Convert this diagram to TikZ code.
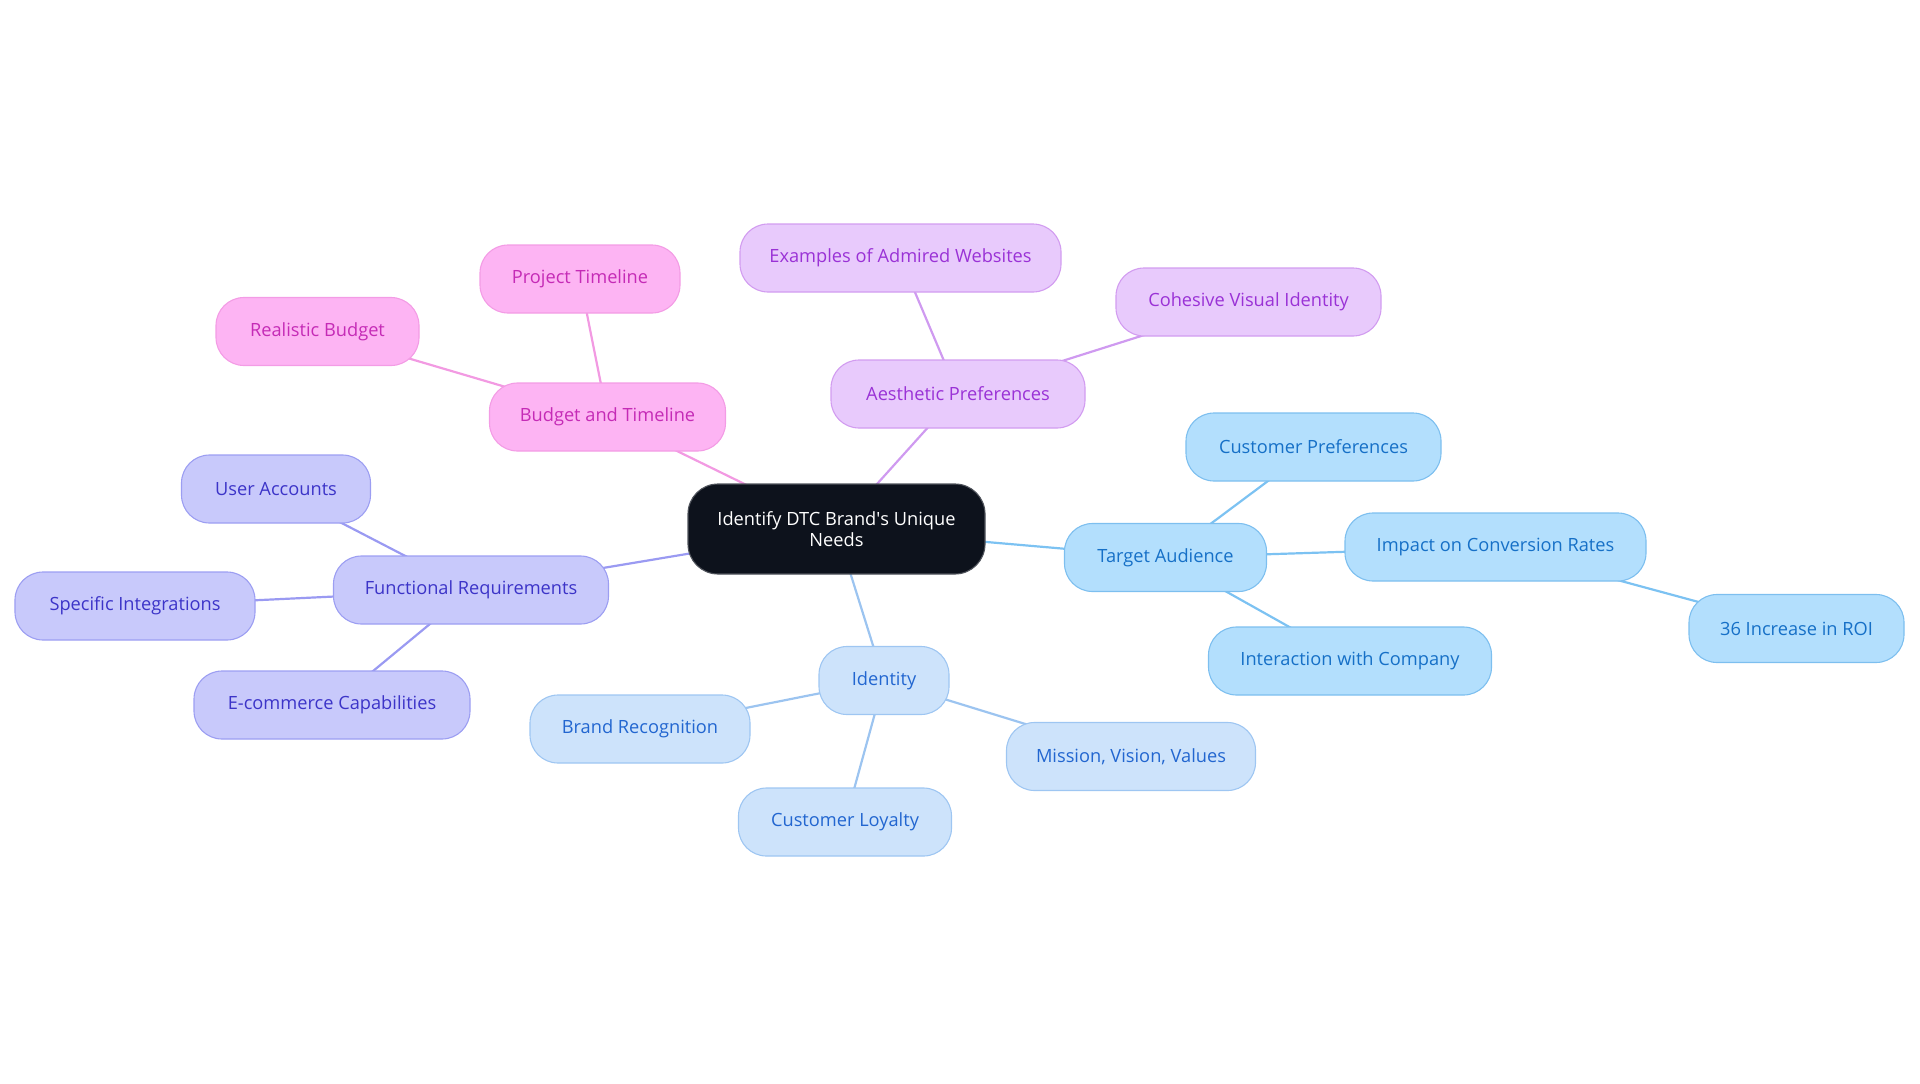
\documentclass[tikz,border=0pt]{standalone}
\usepackage{fontspec}
\setmainfont{Open Sans}
\usetikzlibrary{backgrounds}
\definecolor{rootfill}{HTML}{0D121C}
\definecolor{rootdraw}{HTML}{50545C}
\definecolor{tafill}{HTML}{B3DFFD}
\definecolor{tadraw}{HTML}{7DBFEF}
\definecolor{tatext}{HTML}{1670C7}
\definecolor{taline}{HTML}{7CC2F2}
\definecolor{idfill}{HTML}{CDE3FB}
\definecolor{iddraw}{HTML}{9EC6F2}
\definecolor{idtext}{HTML}{2266D0}
\definecolor{idline}{HTML}{9CC4F0}
\definecolor{frfill}{HTML}{C8C9FB}
\definecolor{frdraw}{HTML}{9C9EF2}
\definecolor{frtext}{HTML}{3C34C8}
\definecolor{frline}{HTML}{9A9AF2}
\definecolor{btfill}{HTML}{FDB4F3}
\definecolor{btdraw}{HTML}{F39CE5}
\definecolor{bttext}{HTML}{C52BB6}
\definecolor{btline}{HTML}{F29AE2}
\definecolor{apfill}{HTML}{E8CAFC}
\definecolor{apdraw}{HTML}{D29CF0}
\definecolor{aptext}{HTML}{9A32D6}
\definecolor{apline}{HTML}{CF9AF0}
\tikzset{
  base/.style={rectangle, rounded corners=28bp, minimum height=68bp, inner sep=0pt,
    line width=1.1bp, font=\fontsize{18.3}{20.5}\selectfont, align=center},
  rootbox/.style={base, rounded corners=30bp, minimum height=90bp, minimum width=297bp,
    fill=rootfill, draw=rootdraw, text=white},
  tabox/.style={base, fill=tafill, draw=tadraw, text=tatext},
  idbox/.style={base, fill=idfill, draw=iddraw, text=idtext},
  frbox/.style={base, fill=frfill, draw=frdraw, text=frtext},
  btbox/.style={base, fill=btfill, draw=btdraw, text=bttext},
  apbox/.style={base, fill=apfill, draw=apdraw, text=aptext},
  link/.style={line width=2.2bp},
}
\begin{document}
\begin{tikzpicture}[x=1bp,y=-1bp]
\useasboundingbox (0,0) rectangle (1920,1083);
\node[rootbox] (root) at (836.5,529) {Identify DTC Brand\textquotesingle s Unique\\Needs};
% Budget branch
\node[btbox, minimum width=236bp] (bt) at (607.5,417) {Budget and Timeline};
\node[btbox, minimum width=200bp] (pt) at (580,279) {Project Timeline};
\node[btbox, minimum width=203bp] (rb) at (317.5,331.5) {Realistic Budget};
% Aesthetic branch
\node[apbox, minimum width=254bp] (ap) at (958,394) {Aesthetic Preferences};
\node[apbox, minimum width=321bp] (ex) at (900.5,258) {Examples of Admired Websites};
\node[apbox, minimum width=265bp] (cv) at (1248.5,302) {Cohesive Visual Identity};
% Target branch
\node[tabox, minimum width=202bp] (ta) at (1165.5,557.5) {Target Audience};
\node[tabox, minimum width=255bp] (cp) at (1313.5,447) {Customer Preferences};
\node[tabox, minimum width=301bp] (ic) at (1495.5,547) {Impact on Conversion Rates};
\node[tabox, minimum width=215bp] (roi) at (1796.5,628.5) {36 Increase in ROI};
\node[tabox, minimum width=283bp] (iw) at (1350,661) {Interaction with Company};
% Functional branch
\node[frbox, minimum width=275bp] (fr) at (471,590) {Functional Requirements};
\node[frbox, minimum width=189bp] (ua) at (276,489) {User Accounts};
\node[frbox, minimum width=240bp] (si) at (135,606) {Specific Integrations};
\node[frbox, minimum width=276bp] (ec) at (332,705) {E-commerce Capabilities};
% Identity branch
\node[idbox, minimum width=130bp] (id) at (884,680.5) {Identity};
\node[idbox, minimum width=220bp] (br) at (640,729) {Brand Recognition};
\node[idbox, minimum width=249bp] (mv) at (1131,756.5) {Mission, Vision, Values};
\node[idbox, minimum width=213bp] (cl) at (845,822) {Customer Loyalty};
\begin{scope}[on background layer]
  \draw[link, btline] (root.center) -- (bt.center);
  \draw[link, btline] (bt.center) -- (pt.center);
  \draw[link, btline] (bt.center) -- (rb.center);
  \draw[link, apline] (root.center) -- (ap.center);
  \draw[link, apline] (ap.center) -- (ex.center);
  \draw[link, apline] (ap.center) -- (cv.center);
  \draw[link, taline] (root.center) -- (ta.center);
  \draw[link, taline] (ta.center) -- (cp.center);
  \draw[link, taline] (ta.center) -- (ic.center);
  \draw[link, taline] (ic.center) -- (roi.center);
  \draw[link, taline] (ta.center) -- (iw.center);
  \draw[link, frline] (root.center) -- (fr.center);
  \draw[link, frline] (fr.center) -- (ua.center);
  \draw[link, frline] (fr.center) -- (si.center);
  \draw[link, frline] (fr.center) -- (ec.center);
  \draw[link, idline] (root.center) -- (id.center);
  \draw[link, idline] (id.center) -- (br.center);
  \draw[link, idline] (id.center) -- (mv.center);
  \draw[link, idline] (id.center) -- (cl.center);
\end{scope}
\end{tikzpicture}
\end{document}
